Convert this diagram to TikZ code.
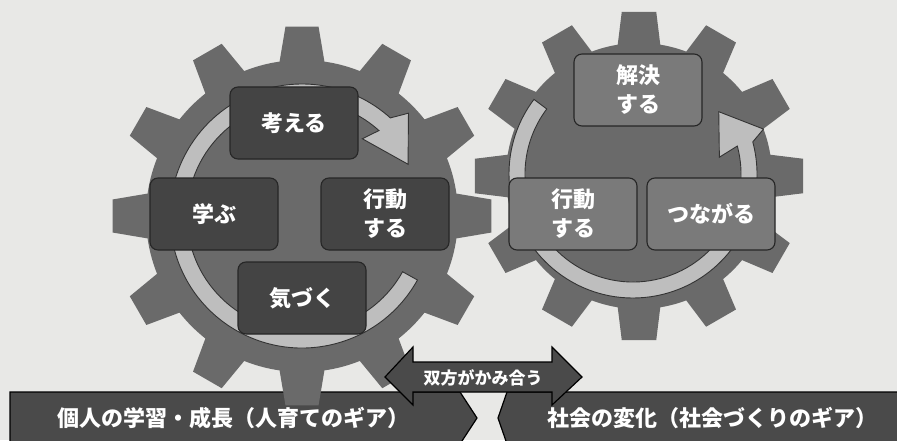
\documentclass[tikz,border=0pt]{standalone}
\usepackage{fontspec}
\newfontfamily\jpfont{Noto Sans CJK JP}
\usetikzlibrary{calc}
\definecolor{paper}{RGB}{232,232,230}
\definecolor{gearbody}{RGB}{106,106,106}
\definecolor{darkcardfill}{RGB}{68,68,68}
\definecolor{midcardfill}{RGB}{122,122,122}
\definecolor{ringlight}{RGB}{190,190,190}
\definecolor{barfill}{RGB}{74,74,74}

\tikzset{
  card/.style={draw=black!85, line width=1.1pt, rounded corners=8pt, minimum width=128pt, minimum height=72pt, align=center, text=white, font=\jpfont\bfseries\fontsize{22}{29}\selectfont},
  darkcard/.style={card, fill=darkcardfill},
  midcard/.style={card, fill=midcardfill},
  ringarrow/.style={fill=ringlight, draw=black!80, line width=0.9pt},
  barshape/.style={fill=barfill, draw=black, line width=1.2pt},
  bartext/.style={text=white, font=\jpfont\bfseries\fontsize{22}{24}\selectfont},
  meshtext/.style={text=white, font=\jpfont\bfseries\fontsize{17}{19}\selectfont}
}

\begin{document}
\begin{tikzpicture}[x=1pt, y=1pt]
  \clip (0,0) rectangle (897,440);
  \fill[paper] (0,0) rectangle (897,440);

  % Bottom bars
  \filldraw[barshape] (10,48) -- (460,48) -- (477,22) -- (460,-4) -- (10,-4) -- cycle;
  \filldraw[barshape] (507,48) -- (902,48) -- (902,-4) -- (507,-4) -- (498,22) -- cycle;

  % Left gear
  \coordinate (lg) at (302,224);
  \fill[gearbody] (lg) circle[radius=156];
  \foreach \a in {0,30,...,330}
    \fill[gearbody] ($(lg)+(\a-9:150)$) -- ($(lg)+(\a-5:190)$) -- ($(lg)+(\a+5:190)$) -- ($(lg)+(\a+9:150)$) -- cycle;

  % Right gear
  \coordinate (rg) at (639,264);
  \fill[gearbody] (rg) circle[radius=133];
  \foreach \a in {0,30,...,330}
    \fill[gearbody] ($(rg)+(\a-10:127)$) -- ($(rg)+(\a-6:165)$) -- ($(rg)+(\a+6:165)$) -- ($(rg)+(\a+10:127)$) -- cycle;

  % Cycle rings
  \filldraw[ringarrow] ($(lg)+(-29:132)$) arc[start angle=-29, end angle=-312, radius=132]
    -- ($(lg)+(44:148)$) -- ($(lg)+(26:118)$) -- ($(lg)+(52:98)$) -- ($(lg)+(48:115)$)
    arc[start angle=-312, end angle=-29, radius=115] -- cycle;
  \coordinate (rc) at (633,266);
  \filldraw[ringarrow] ($(rc)+(143:124)$) arc[start angle=143, end angle=375, radius=124]
    -- ($(rc)+(19:138)$) -- ($(rc)+(36:106)$) -- ($(rc)+(11:88)$) -- ($(rc)+(15:108)$)
    arc[start angle=375, end angle=143, radius=108] -- cycle;

  % Steps of the personal gear
  \node[darkcard] (think) at (294,317) {考える};
  \node[darkcard] (learn) at (214,226) {学ぶ};
  \node[darkcard] (actleft) at (385,226) {行動\\する};
  \node[darkcard] (notice) at (302,142) {気づく};

  % Steps of the society gear
  \node[midcard] (solve) at (638,350) {解決\\する};
  \node[midcard] (actright) at (573,226) {行動\\する};
  \node[midcard] (connect) at (711,226) {つながる};

  % Meshing arrow
  \filldraw[barshape] (385,63) -- (413,93) -- (413,78) -- (552,78) -- (552,93) -- (582,63)
    -- (552,35) -- (552,48) -- (413,48) -- (413,35) -- cycle;
  \node[meshtext] (mesh) at (483,62) {双方がかみ合う};

  % Bar labels
  \node[bartext] (personal) at (233,22) {個人の学習・成長（人育てのギア）};
  \node[bartext] (society) at (712,22) {社会の変化（社会づくりのギア）};
\end{tikzpicture}
\end{document}
